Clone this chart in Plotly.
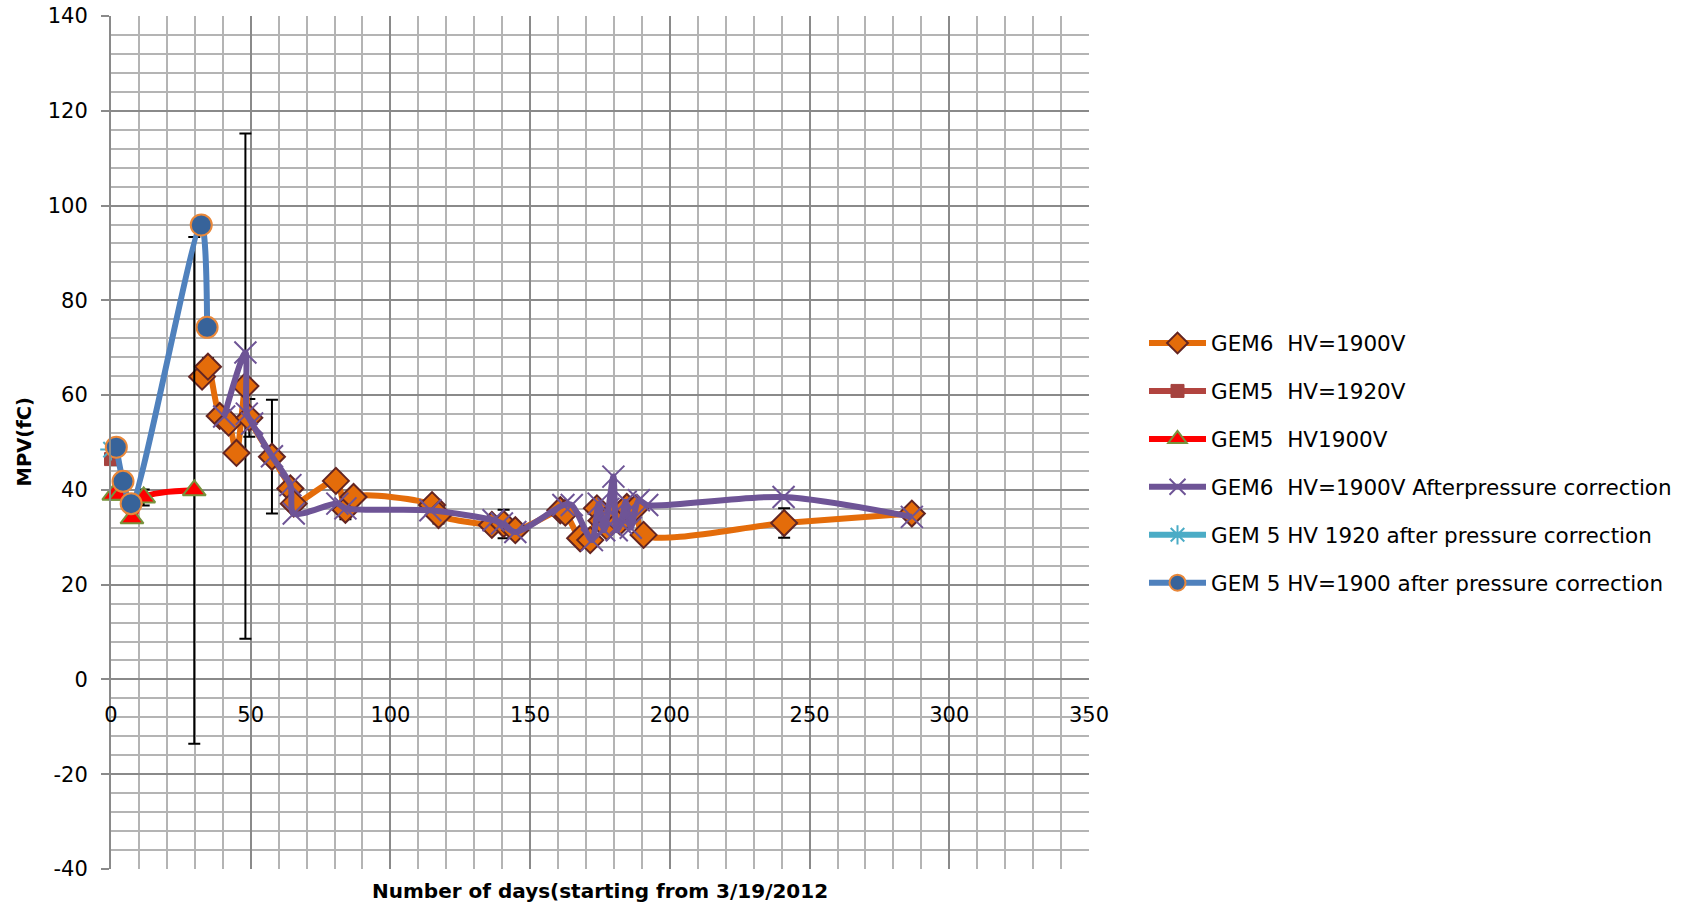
import plotly.graph_objects as go

# ---------------- data ----------------
gem6_x = [32.6, 34.7, 38.9, 42.1, 44.9, 48.1, 49.5, 57.6, 64.2, 65.4, 80.5, 83.9, 86.8,
          114.9, 117.2, 136.3, 140.5, 144.7, 160.8, 162.6, 167.9, 171.5, 173.9, 175.5,
          177.5, 179.5, 182.2, 184.6, 187.6, 190.6, 240.9, 286.6]
gem6_y = [63.9, 66.0, 55.6, 54.2, 47.8, 61.9, 55.2, 47.0, 40.3, 37.1, 41.9, 35.8, 38.5,
          36.8, 34.7, 32.6, 32.8, 31.5, 35.7, 35.2, 29.8, 29.4, 36.1, 33.5,
          32.2, 35.0, 33.3, 36.4, 36.1, 30.5, 33.0, 35.0]
gem6_err = [1.5, 1.8, 1.5, 1.5, 1.5, 53.3, 4.0, 12.0, 1.5, 1.5, 1.5, 2.0, 1.5,
            1.2, 1.8, 1.5, 3.0, 1.2, 1.2, 1.2, 1.2, 1.2, 1.2, 1.2,
            1.2, 1.2, 1.2, 1.2, 1.2, 1.2, 3.1, 1.2]

gem5_1920_x = [0.0]
gem5_1920_y = [46.5]
gem5_1920_err = [1.3]

gem5_1900_x = [1.0, 3.4, 7.5, 11.7, 29.8]
gem5_1900_y = [39.0, 39.0, 34.0, 38.4, 39.9]
gem5_1900_err = [0.0, 0.0, 0.0, 1.7, 53.45]

gem6_corr_x = [40.5, 48.1, 48.6, 50.5, 57.6, 64.2, 65.4, 81.0, 83.9, 114.3, 136.9, 139.9,
               144.7, 161.9, 164.9, 172.1, 174.5, 176.5, 178.0, 179.8, 181.0, 182.5, 184.2,
               186.0, 188.9, 191.9, 240.7, 286.6]
gem6_corr_y = [55.5, 69.0, 56.1, 54.0, 47.1, 41.0, 35.0, 37.1, 36.1, 35.7, 33.6, 32.9,
               31.1, 36.8, 36.8, 29.4, 37.1, 31.5, 36.0, 42.8, 31.5, 33.0, 37.5,
               32.0, 37.8, 36.8, 38.5, 34.3]

gem5_1920_corr_x = [0.0]
gem5_1920_corr_y = [48.5]

gem5_1900_corr_x = [1.9, 4.3, 7.2, 32.3, 34.4]
gem5_1900_corr_y = [49.0, 41.8, 37.1, 95.9, 74.3]

x_ticks = [0, 50, 100, 150, 200, 250, 300, 350]
y_ticks = [-40, -20, 0, 20, 40, 60, 80, 100, 120, 140]

FONT = "DejaVu Sans"
err_style = dict(type="data", color="black", thickness=2, width=6)

fig = go.Figure()

fig.add_trace(go.Scatter(
    x=gem6_x, y=gem6_y, name="GEM6  HV=1900V", legendgroup="a",
    mode="lines+markers", line=dict(color="#E46C0A", width=6, shape="spline", smoothing=0.8),
    marker=dict(symbol="diamond", size=20, color="#E46C0A", line=dict(color="#632523", width=2)),
    error_y=dict(array=gem6_err, **err_style), cliponaxis=False))

fig.add_trace(go.Scatter(
    x=gem5_1920_x, y=gem5_1920_y, name="GEM5  HV=1920V", legendgroup="b",
    mode="lines+markers", line=dict(color="#B2443F", width=6),
    marker=dict(symbol="square", size=13, color="#A5423F", line=dict(color="#A5423F", width=1)),
    error_y=dict(array=gem5_1920_err, **err_style), cliponaxis=False))

fig.add_trace(go.Scatter(
    x=gem5_1900_x, y=gem5_1900_y, name="GEM5  HV1900V", legendgroup="c",
    mode="lines+markers", line=dict(color="#FF0000", width=6, shape="spline", smoothing=0.8),
    marker=dict(symbol="triangle-up", size=20, color="#FF0000", line=dict(color="#77933C", width=2)),
    error_y=dict(array=gem5_1900_err, **err_style), cliponaxis=False))

fig.add_trace(go.Scatter(
    x=gem6_corr_x, y=gem6_corr_y, name="GEM6  HV=1900V Afterpressure correction", legendgroup="d",
    mode="lines+markers", line=dict(color="#6E5496", width=6, shape="spline", smoothing=0.8),
    marker=dict(symbol="x-thin", size=22, color="#6E5496", line=dict(color="#6E5496", width=2)),
    cliponaxis=False))

fig.add_trace(go.Scatter(
    x=gem5_1920_corr_x, y=gem5_1920_corr_y, name="GEM 5 HV 1920 after pressure correction",
    legendgroup="e",
    mode="lines+markers", line=dict(color="#4BACC6", width=6),
    marker=dict(symbol="asterisk-open", size=18, color="#4BACC6", line=dict(color="#4BACC6", width=2)),
    cliponaxis=False))

fig.add_trace(go.Scatter(
    x=gem5_1900_corr_x, y=gem5_1900_corr_y, name="GEM 5 HV=1900 after pressure correction",
    legendgroup="f",
    mode="lines+markers", line=dict(color="#4F81BD", width=6, shape="spline", smoothing=0.8),
    marker=dict(symbol="circle", size=21, color="#37639A", line=dict(color="#E9883A", width=2)),
    cliponaxis=False))

W, H = 1692, 906
L, T = 111, 16
R = W - 1089
B = H - 869
plot_h = H - T - B
plot_w = W - L - R
zero_pos = (0 - (-40)) / 180.0

fig.update_layout(
    width=W, height=H,
    margin=dict(l=L, r=R, t=T, b=B, autoexpand=False),
    paper_bgcolor="white", plot_bgcolor="white",
    font=dict(family=FONT, size=20, color="black"),
    showlegend=True,
    legend=dict(x=(1144 - L) / plot_w, y=(869 - 463) / plot_h, xanchor="left", yanchor="middle",
                font=dict(family=FONT, size=21.5, color="black"),
                tracegroupgap=17, traceorder="grouped", itemwidth=57,
                bgcolor="rgba(0,0,0,0)"),
    xaxis=dict(range=[0, 350], tickvals=x_ticks, ticktext=[str(v) for v in x_ticks],
               anchor="free", position=zero_pos,
               showgrid=True, gridcolor="#8A8A8A", gridwidth=2,
               minor=dict(dtick=10, tick0=0, showgrid=True, gridcolor="#B4B4B4", gridwidth=2),
               showline=False, zeroline=False, ticks="",
               ticklabelstandoff=21,
               tickfont=dict(family=FONT, size=21, color="black")),
    yaxis=dict(range=[-40, 140], tickvals=y_ticks, ticktext=[str(v) for v in y_ticks],
               showgrid=True, gridcolor="#8A8A8A", gridwidth=2,
               minor=dict(dtick=4, tick0=0, showgrid=True, gridcolor="#B4B4B4", gridwidth=2),
               showline=True, linecolor="#8A8A8A", linewidth=2,
               zeroline=False, ticks="outside", ticklen=8, tickcolor="#8A8A8A", tickwidth=2,
               ticklabelstandoff=9, ticklabeloverflow="allow",
               tickfont=dict(family=FONT, size=21, color="black")),
    annotations=[
        dict(text="<b>Number of days(starting from 3/19/2012</b>", xref="paper", yref="paper",
             x=0.5, y=-(891 - (H - B)) / plot_h, xanchor="center", yanchor="middle",
             showarrow=False, font=dict(family=FONT, size=20, color="black")),
        dict(text="<b>MPV(fC)</b>", xref="paper", yref="paper",
             x=(24 - L) / plot_w, y=0.5, xanchor="center", yanchor="middle",
             textangle=-90, showarrow=False, font=dict(family=FONT, size=19.5, color="black")),
    ],
)

fig.write_html(
    "out.html",
    config={"displayModeBar": False},
    post_script="document.body.style.margin='0';document.body.style.overflow='hidden';",
)
